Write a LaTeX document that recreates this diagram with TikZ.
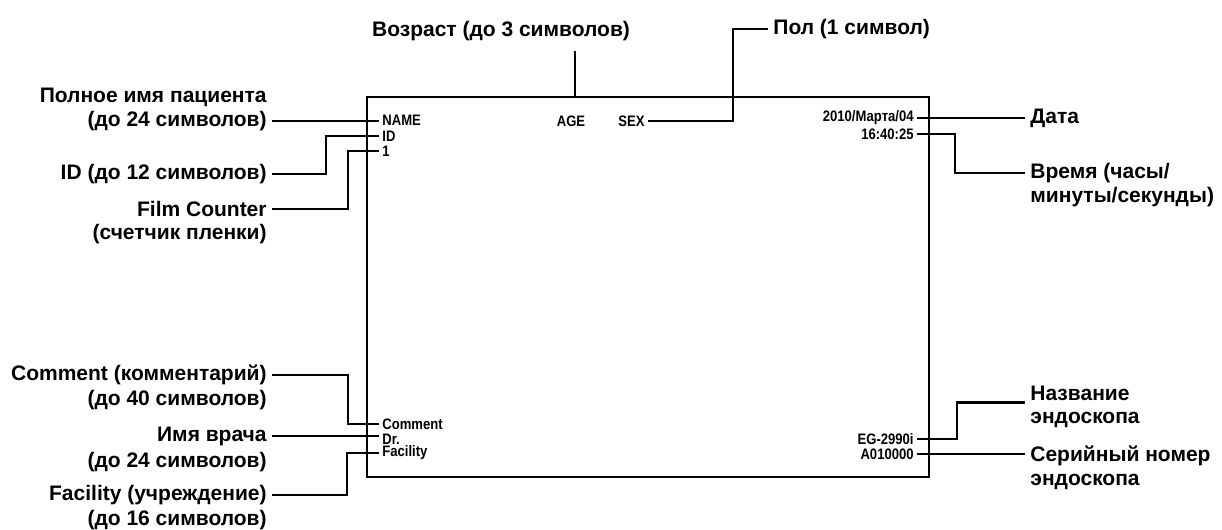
\documentclass[tikz,border=0pt]{standalone}
\usepackage{fontspec}
\setmainfont{Liberation Sans}
\newfontfamily\scrfont[FakeStretch=0.86]{Liberation Sans}

\begin{document}
\begin{tikzpicture}[x=0.5pt,y=-0.5pt]
\tikzstyle{lbl}=[font=\fontsize{10.5}{13}\selectfont\bfseries,inner xsep=2.5pt,inner ysep=1pt]
\tikzstyle{scr}=[font=\scrfont\fontsize{7.6}{8}\selectfont\bfseries,inner xsep=1.5pt,inner ysep=0.5pt]
\tikzstyle{conn}=[line width=1.3pt]

\useasboundingbox (0,0) rectangle (1222,530);

%screen frame.
\node[draw,line width=0.6pt,minimum width=281pt,minimum height=190pt,inner sep=0pt] (screen) at (648,287) {};

%texts on the screen.
\node[scr,anchor=west] (name_txt) at (379,120) {NAME};
\node[scr,anchor=west] (id_txt) at (379,136) {ID};
\node[scr,anchor=west] (cnt_txt) at (379,151) {1};
\node[scr] (age_txt) at (571,121) {AGE};
\node[scr,anchor=west] (sex_txt) at (615,121) {SEX};
\node[scr,anchor=east] (date_txt) at (917,118) {2010/Марта/04};
\node[scr,anchor=east] (time_txt) at (917,134) {16:40:25};
\node[scr,anchor=west] (com_txt) at (379,424) {Comment};
\node[scr,anchor=west] (dr_txt) at (379,439) {Dr.};
\node[scr,anchor=west] (fac_txt) at (379,453) {Facility};
\node[scr,anchor=east] (endo_txt) at (917,439) {EG-2990i};
\node[scr,anchor=east] (ser_txt) at (917,454) {A010000};

%labels left.
\node[lbl,anchor=east] (name_lbl) at (272,97) {Полное имя пациента};
\node[lbl,anchor=east] (name_lim) at (272,121) {(до 24 символов)};
\node[lbl,anchor=east] (id_lbl) at (272,174) {ID (до 12 символов)};
\node[lbl,anchor=east] (film_lbl) at (272,209) {Film Counter};
\node[lbl,anchor=east] (film_lim) at (272,234) {(счетчик пленки)};
\node[lbl,anchor=east] (com_lbl) at (272,375) {Comment (комментарий)};
\node[lbl,anchor=east] (com_lim) at (272,400) {(до 40 символов)};
\node[lbl,anchor=east] (dr_lbl) at (272,436) {Имя врача};
\node[lbl,anchor=east] (dr_lim) at (272,462) {(до 24 символов)};
\node[lbl,anchor=east] (fac_lbl) at (272,495) {Facility (учреждение)};
\node[lbl,anchor=east] (fac_lim) at (272,520) {(до 16 символов)};

%labels top.
\node[lbl] (age_lbl) at (501,31) {Возраст (до 3 символов)};
\node[lbl,anchor=west] (sex_lbl) at (768,29) {Пол (1 символ)};

%labels right.
\node[lbl,anchor=west] (date_lbl) at (1025,118) {Дата};
\node[lbl,anchor=west] (time_lbl) at (1025,173) {Время (часы/};
\node[lbl,anchor=west] (time_lim) at (1025,197) {минуты/секунды)};
\node[lbl,anchor=west] (endo_lbl) at (1025,393) {Название};
\node[lbl,anchor=west] (endo_lim) at (1025,420) {эндоскопа};
\node[lbl,anchor=west] (ser_lbl) at (1025,456) {Серийный номер};
\node[lbl,anchor=west] (ser_lim) at (1025,482) {эндоскопа};

%leaders.
\draw[conn] (name_lim.east) -- (name_lim.east -| name_txt.west);
\draw[conn] (id_txt.west) -- ++(-53,0) |- (id_lbl.east);
\draw[conn] (cnt_txt.west) -- ++(-31,0) |- (film_lbl.east);
\draw[conn] (com_txt.west) -- ++(-31,0) |- (com_lbl.east);
\draw[conn] (dr_lbl.east) -- (dr_lbl.east -| dr_txt.west);
\draw[conn] (fac_txt.west) -- ++(-32,0) |- (fac_lbl.east);
\draw[conn] ([xshift=2pt]age_txt.north |- age_lbl.south) ++(0,8) -- ([xshift=2pt]age_txt.north |- screen.north);
\draw[conn] (sex_lbl.west) -- ++(-35,0) |- (sex_txt.east);
\draw[conn] (date_txt.east) -- (date_txt.east -| date_lbl.west);
\draw[conn] (time_lbl.west) -- ++(-70,0) |- (time_txt.east);
\draw[conn] (endo_lbl.south west) -- ++(-68,0) |- (endo_txt.east);
\draw[conn] (ser_txt.east) -- (ser_txt.east -| ser_lbl.west);

\end{tikzpicture}
\end{document}
